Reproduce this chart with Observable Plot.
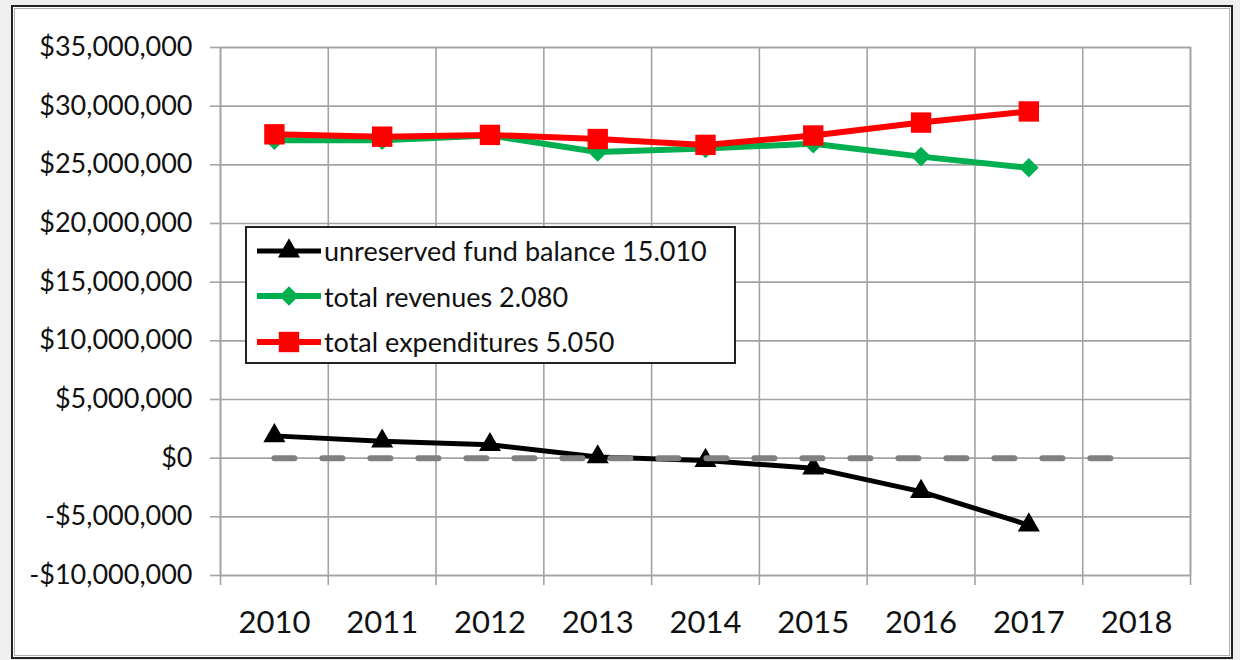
<!DOCTYPE html>
<html><head><meta charset="utf-8">
<script src="https://cdn.jsdelivr.net/npm/d3@7"></script>
<script src="https://cdn.jsdelivr.net/npm/@observablehq/plot@0.6"></script>
<style>
html,body{margin:0;padding:0;background:#efefef;}
#wrap{position:relative;width:1240px;height:660px;overflow:hidden;background:#efefef;font-family:Lato,"Open Sans",sans-serif;}
#frame{position:absolute;left:11px;top:5px;width:1218px;height:650px;border:2px solid #222;background:#fff;}
#frame::after{content:"";position:absolute;left:1px;top:1px;right:1px;bottom:1px;border:1px solid #b0b0b0;}
#chart{position:absolute;left:0;top:0;}
#legend{position:absolute;left:245px;top:226px;width:487px;height:134px;border:2px solid #222;background:#fff;box-sizing:content-box;}
#legend .row{display:flex;align-items:center;height:45.5px;padding-left:10px;}
#legend .row span{font-size:27px;color:#111;margin-left:3px;white-space:nowrap;}
</style>
</head><body>
<div id="wrap"><div id="frame"></div><div id="chart"></div><div id="legend"></div></div>
<script>
const years = [2010, 2011, 2012, 2013, 2014, 2015, 2016, 2017];
const axisYears = [2010, 2011, 2012, 2013, 2014, 2015, 2016, 2017, 2018];
const fundBalance = [1900000, 1450000, 1150000, 100000, -200000, -850000, -2850000, -5700000];
const totalRevenues = [27100000, 27100000, 27500000, 26100000, 26400000, 26800000, 25700000, 24750000];
const totalExpenditures = [27600000, 27400000, 27550000, 27200000, 26700000, 27500000, 28600000, 29550000];
const zeroLine = [0, 0, 0, 0, 0, 0, 0, 0, 0];
const yTicks = [-10000000, -5000000, 0, 5000000, 10000000, 15000000, 20000000, 25000000, 30000000, 35000000];
const seriesNames = ["unreserved fund balance 15.010", "total revenues 2.080", "total expenditures 5.050"];
const seriesColors = ["#000000", "#00b050", "#ff0000"];
const seriesSymbols = ["triangle", "diamond2", "square"];
const seriesR = [8.2, 8.8, 11.5];

const boundaries = d3.range(axisYears.length + 1).map(i => axisYears[0] - 0.5 + i);
const toRows = vals => vals.map((v, i) => ({year: years[i], value: v}));
const fundRows = toRows(fundBalance);
const revRows = toRows(totalRevenues);
const expRows = toRows(totalExpenditures);
const zeroRows = zeroLine.map((v, i) => ({year: axisYears[i], value: v}));

const fmt = v => (v < 0 ? "-" : "") + "$" + d3.format(",")(Math.abs(v));
const gridColor = "#a3a3a3";

const chart = Plot.plot({
  width: 1240, height: 660,
  marginLeft: 220, marginRight: 50, marginTop: 47, marginBottom: 85,
  style: {background: "transparent", fontFamily: "Lato, 'Open Sans', sans-serif", color: "#111", overflow: "visible"},
  x: {type: "linear", domain: [boundaries[0], boundaries[boundaries.length - 1]], label: null},
  y: {domain: [yTicks[0], yTicks[yTicks.length - 1]], label: null},
  marks: [
    Plot.gridY(yTicks, {stroke: gridColor, strokeOpacity: 1, strokeWidth: 1.6}),
    Plot.gridX(boundaries, {stroke: gridColor, strokeOpacity: 1, strokeWidth: 1.6}),
    Plot.frame({stroke: gridColor, strokeWidth: 1.6}),
    Plot.axisY(yTicks, {tickSize: 10, tickPadding: 18, tickFormat: fmt, fontSize: 27, color: "#111", stroke: gridColor, strokeWidth: 1.6, label: null}),
    Plot.axisX(boundaries, {tickSize: 10, tickFormat: () => "", stroke: gridColor, strokeWidth: 1.6, label: null}),
    Plot.axisX(axisYears, {tickSize: 0, tickPadding: 35, tickFormat: d => String(d), fontSize: 31, color: "#111", label: null}),
    Plot.line(fundRows, {x: "year", y: "value", stroke: seriesColors[0], strokeWidth: 5, strokeLinejoin: "round"}),
    Plot.dot(fundRows, {x: "year", y: "value", symbol: seriesSymbols[0], r: seriesR[0], fill: seriesColors[0]}),
    Plot.line(zeroRows, {x: "year", y: "value", stroke: "#808080", strokeWidth: 6, strokeDasharray: "20,28", strokeLinecap: "round"}),
    Plot.line(revRows, {x: "year", y: "value", stroke: seriesColors[1], strokeWidth: 6, strokeLinejoin: "round"}),
    Plot.dot(revRows, {x: "year", y: "value", symbol: seriesSymbols[1], r: seriesR[1], fill: seriesColors[1]}),
    Plot.line(expRows, {x: "year", y: "value", stroke: seriesColors[2], strokeWidth: 6, strokeLinejoin: "round"}),
    Plot.dot(expRows, {x: "year", y: "value", symbol: seriesSymbols[2], r: seriesR[2], fill: seriesColors[2]})
  ]
});
document.getElementById("chart").appendChild(chart);

// legend
const symMap = {triangle: d3.symbolTriangle, diamond2: d3.symbolDiamond2, square: d3.symbolSquare};
const legend = d3.select("#legend");
seriesNames.forEach((name, i) => {
  const row = legend.append("div").attr("class", "row");
  const svg = row.append("svg").attr("width", 64).attr("height", 30);
  svg.append("line").attr("x1", 0).attr("x2", 64).attr("y1", 15).attr("y2", 15)
    .attr("stroke", seriesColors[i]).attr("stroke-width", i === 0 ? 5 : 6).attr("stroke-linecap", "round");
  svg.append("path").attr("transform", "translate(32,15)")
    .attr("d", d3.symbol(symMap[seriesSymbols[i]], Math.PI * seriesR[i] * seriesR[i])())
    .attr("fill", seriesColors[i]);
  row.append("span").text(name);
});
</script>
</body></html>
